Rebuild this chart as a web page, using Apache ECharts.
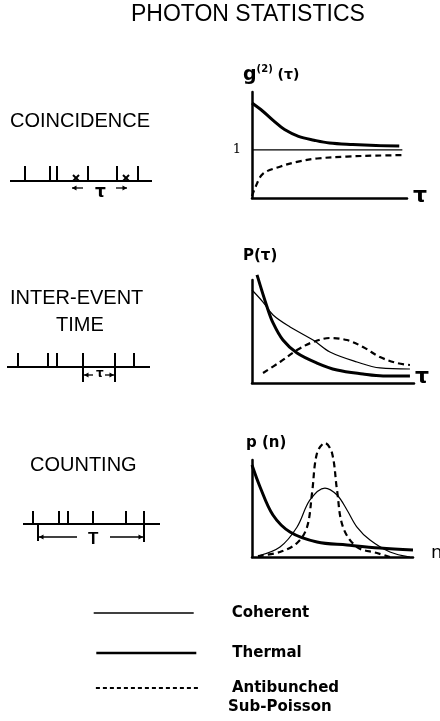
<!DOCTYPE html>
<html><head><meta charset="utf-8">
<script src="https://cdn.jsdelivr.net/npm/echarts@6/dist/echarts.min.js"></script>
<style>html,body{margin:0;padding:0;background:#fff}#c{width:440px;height:721px}</style>
</head><body><div id="c"></div>
<script>
// ---- curve data (x, y) ----
const g2Coherent = [[0,1],[9.7,1]];
const g2Thermal  = [[0,1.97],[0.7,1.8],[1.4,1.6],[2.1,1.42],[3,1.28],[4,1.2],[5,1.14],[6.5,1.11],[8,1.09],[9.5,1.08]];
const g2Anti     = [[0,0.04],[0.2,0.21],[0.7,0.5],[1.8,0.65],[2.9,0.75],[4.2,0.82],[6.1,0.86],[8,0.88],[9.7,0.89]];

const pTauCoherent = [[0,9.03],[0.68,7.86],[1.3,6.6],[2.35,5.44],[3.77,4.17],[4.81,3.01],[6.48,2.04],[7.9,1.46],[9.75,1.36]];
const pTauThermal  = [[0.31,10.5],[0.93,7.38],[1.3,5.83],[1.91,4.17],[2.78,2.91],[4.01,1.94],[5.25,1.26],[6.85,0.87],[8.09,0.68],[9.75,0.68]];
const pTauAnti     = [[0.68,0.97],[1.73,2.04],[2.78,3.2],[3.77,3.98],[4.81,4.37],[5.86,4.17],[6.85,3.5],[7.9,2.52],[8.95,1.94],[9.75,1.75]];

const pnCoherent = [[0.37,0.1],[1.74,1.03],[2.8,3.09],[3.6,5.88],[4.53,7.11],[5.28,6.39],[5.9,4.85],[6.52,3.09],[7.33,1.75],[8.57,0.52],[9.81,0]];
const pnThermal  = [[0,9.48],[0.5,7.22],[1.3,4.33],[2.36,2.58],[4.04,1.55],[5.9,1.24],[7.95,0.93],[10,0.72]];
const pnAnti     = [[0.37,0.1],[1.74,0.52],[2.8,1.44],[3.42,3.09],[3.73,6.6],[4.04,10.72],[4.53,11.75],[4.97,10.72],[5.28,6.91],[5.65,3.09],[6.52,1.03],[7.76,0.41],[8.57,0]];

// ---- timeline (event) data ----
const coinEvents   = [15,40,47,78,107,128];
const coinCrosses  = [66,116];
const interEvents  = [11,41,50,76,108,127];
const interGap     = [76,108];
const countEvents  = [10,36,45,70,103,121];
const countWindow  = [15,121];

const seriesNames = ['Coherent','Thermal','Antibunched'];
const legendSubLabel = 'Sub-Poisson';
const yOneTick = 1;

// ---- build timeline shapes: [kind, x1, y1, x2, y2] ; 0 line, 1 arrow(head at x1,y1), 2 cross
function coinShapes(){
  const s = [[0,0,21,142,21]];
  coinEvents.forEach(e=>s.push([0,e,6,e,21]));
  coinCrosses.forEach(c=>s.push([2,c,18,c,18]));
  s.push([1,coinCrosses[0]-4,28,coinCrosses[0]+7,28]);
  s.push([1,coinCrosses[1]+1,28,coinCrosses[1]-10,28]);
  return s;
}
function interShapes(){
  const s = [[0,0,22,143,22]];
  interEvents.forEach(e=>s.push([0,e,8,e,22]));
  s.push([0,interGap[0],22,interGap[0],37]);
  s.push([0,interGap[1],22,interGap[1],37]);
  s.push([1,interGap[0]+1,30,interGap[0]+10,30]);
  s.push([1,interGap[1]-1,30,interGap[1]-10,30]);
  return s;
}
function countShapes(){
  const s = [[0,0,24,137,24]];
  countEvents.forEach(e=>s.push([0,e,11,e,24]));
  s.push([0,countWindow[0],24,countWindow[0],41]);
  s.push([0,countWindow[1],11,countWindow[1],42]);
  s.push([1,countWindow[0]+1,37,countWindow[0]+39,37]);
  s.push([1,countWindow[1]-1,37,countWindow[1]-34,37]);
  return s;
}

function renderShape(params, api){
  const k = api.value(0);
  const p1 = api.coord([api.value(1), api.value(2)]);
  const p2 = api.coord([api.value(3), api.value(4)]);
  const st = {stroke:'#000', lineWidth:2};
  if (k === 0) {
    return {type:'line', shape:{x1:p1[0],y1:p1[1],x2:p2[0],y2:p2[1]}, style:st};
  }
  if (k === 2) {
    const r = 3;
    return {type:'group', children:[
      {type:'line', shape:{x1:p1[0]-r,y1:p1[1]-r,x2:p1[0]+r,y2:p1[1]+r}, style:st},
      {type:'line', shape:{x1:p1[0]-r,y1:p1[1]+r,x2:p1[0]+r,y2:p1[1]-r}, style:st}
    ]};
  }
  const dx = p1[0]-p2[0], dy = p1[1]-p2[1];
  const L = Math.sqrt(dx*dx+dy*dy)||1;
  const ux = dx/L, uy = dy/L, nx = -uy, ny = ux;
  const h = 4.5, w = 2.5;
  return {type:'group', children:[
    {type:'line', shape:{x1:p2[0],y1:p2[1],x2:p1[0],y2:p1[1]}, style:{stroke:'#000', lineWidth:1.3}},
    {type:'polygon', shape:{points:[[p1[0],p1[1]],[p1[0]-ux*h+nx*w,p1[1]-uy*h+ny*w],[p1[0]-ux*h-nx*w,p1[1]-uy*h-ny*w]]}, style:{fill:'#000'}}
  ]};
}

const axisLine = {show:true, lineStyle:{color:'#000', width:2.5}};
function valAxis(grid, min, max, extra){
  return Object.assign({type:'value', gridIndex:grid, min:min, max:max, axisLine:axisLine,
    axisTick:{show:false}, axisLabel:{show:false}, splitLine:{show:false}}, extra||{});
}
function hidAxis(grid, min, max, inverse){
  return {type:'value', gridIndex:grid, min:min, max:max, inverse:!!inverse, show:false};
}

const styles = {
  Coherent:   {color:'#000', width:1.2, type:'solid'},
  Thermal:    {color:'#000', width:3, type:'solid'},
  Antibunched:{color:'#000', width:2.2, type:[6,4]}
};
function curve(name, data, idx){
  return {name:name, type:'line', xAxisIndex:idx, yAxisIndex:idx, data:data, smooth:0.35,
    symbol:'none', showSymbol:false, clip:false, lineStyle:styles[name], itemStyle:{color:'#000'},
    silent:true, animation:false, z:3};
}

const legendText = {fontFamily:'DejaVu Sans', fontWeight:'bold', fontSize:15, color:'#000', lineHeight:16};
function legendBox(name, left, top, width, pad, lineStyle){
  return {orient:'vertical', left:left, top:top, padding:0, itemWidth:width, itemHeight:12,
    selectedMode:false, itemStyle:{color:'rgba(0,0,0,0)', borderWidth:0, opacity:0},
    data:[{name:name, lineStyle:Object.assign({color:'#000'}, lineStyle)}],
    textStyle:Object.assign({padding:[0,0,0,pad]}, legendText)};
}

const fontTxt = 'Liberation Sans';
const option = {
  animation:false,
  backgroundColor:'#fff',
  title:{text:'PHOTON STATISTICS', left:131, top:3, padding:0,
    textStyle:{fontFamily:fontTxt, fontWeight:'normal', fontSize:23, color:'#000'}},
  legend:[
    legendBox('Coherent', 93, 605, 100, 33, {width:1.4}),
    legendBox('Thermal', 95, 645, 100, 31, {width:2.6}),
    legendBox('Antibunched', 95, 680, 105, 26, {width:1.8, type:[4,3]})
  ],
  grid:[
    {left:252, top:92, width:155, height:106},
    {left:252, top:280, width:162, height:103},
    {left:252, top:460, width:161, height:97},
    {left:10, top:160, width:142, height:40},
    {left:7, top:345, width:143, height:45},
    {left:23, top:500, width:137, height:45}
  ],
  xAxis:[
    valAxis(0,0,10), valAxis(1,0,10), valAxis(2,0,10),
    hidAxis(3,0,142), hidAxis(4,0,143), hidAxis(5,0,137)
  ],
  yAxis:[
    valAxis(0,0,2.2,{interval:1, axisLabel:{show:true, margin:11, fontFamily:'DejaVu Serif', fontSize:13, color:'#000',
      formatter:function(v){return v===yOneTick?'1':'';}}}),
    valAxis(1,0,10), valAxis(2,0,10),
    hidAxis(3,0,40,true), hidAxis(4,0,45,true), hidAxis(5,0,45,true)
  ],
  series:[
    curve('Coherent', g2Coherent, 0),
    curve('Thermal', g2Thermal, 0),
    curve('Antibunched', g2Anti, 0),
    curve('Coherent', pTauCoherent, 1),
    curve('Thermal', pTauThermal, 1),
    curve('Antibunched', pTauAnti, 1),
    curve('Coherent', pnCoherent, 2),
    curve('Thermal', pnThermal, 2),
    curve('Antibunched', pnAnti, 2),
    {type:'custom', xAxisIndex:3, yAxisIndex:3, data:coinShapes(), renderItem:renderShape, silent:true},
    {type:'custom', xAxisIndex:4, yAxisIndex:4, data:interShapes(), renderItem:renderShape, silent:true},
    {type:'custom', xAxisIndex:5, yAxisIndex:5, data:countShapes(), renderItem:renderShape, silent:true}
  ],
  graphic:[
    {type:'text', left:10, top:111, style:{text:'COINCIDENCE', font:'20px "Liberation Sans"', fill:'#000'}},
    {type:'text', left:10, top:288, style:{text:'INTER-EVENT', font:'20px "Liberation Sans"', fill:'#000'}},
    {type:'text', left:56, top:315, style:{text:'TIME', font:'20px "Liberation Sans"', fill:'#000'}},
    {type:'text', left:30, top:455, style:{text:'COUNTING', font:'20px "Liberation Sans"', fill:'#000'}},
    {type:'text', left:243, top:64, style:{rich:{g:{font:'bold 19px "DejaVu Sans"', fill:'#000'}, s:{font:'bold 10px "DejaVu Sans"', fill:'#000', verticalAlign:'top', padding:[0,0,12,0]}, t:{font:'bold 14px "DejaVu Sans"', fill:'#000'}}, text:'{g|g}{s|(2)}{t| (τ)}'}},
    {type:'text', left:243, top:249, style:{text:'P(τ)', font:'bold 15px "DejaVu Sans"', fill:'#000'}},
    {type:'text', left:246, top:436, style:{text:'p (n)', font:'bold 15px "DejaVu Sans"', fill:'#000'}},
    {type:'text', left:413, top:185, style:{text:'τ', font:'bold 22px "DejaVu Sans"', fill:'#000'}},
    {type:'text', left:415, top:366, style:{text:'τ', font:'bold 22px "DejaVu Sans"', fill:'#000'}},
    {type:'text', left:431, top:544, style:{text:'n', font:'18px "DejaVu Sans"', fill:'#000'}},
    {type:'text', left:95, top:184, style:{text:'τ', font:'bold 17px "DejaVu Sans"', fill:'#000'}},
    {type:'text', left:96, top:368, style:{text:'τ', font:'bold 12px "DejaVu Sans"', fill:'#000'}},
    {type:'text', left:88, top:531, style:{text:'T', font:'bold 17px "Liberation Sans"', fill:'#000'}},
    {type:'text', left:228, top:700, style:{text:legendSubLabel, font:'bold 15px "DejaVu Sans"', fill:'#000'}}
  ]
};
const chart = echarts.init(document.getElementById('c'), null, {renderer:'canvas'});
chart.setOption(option);
</script>
</body></html>
